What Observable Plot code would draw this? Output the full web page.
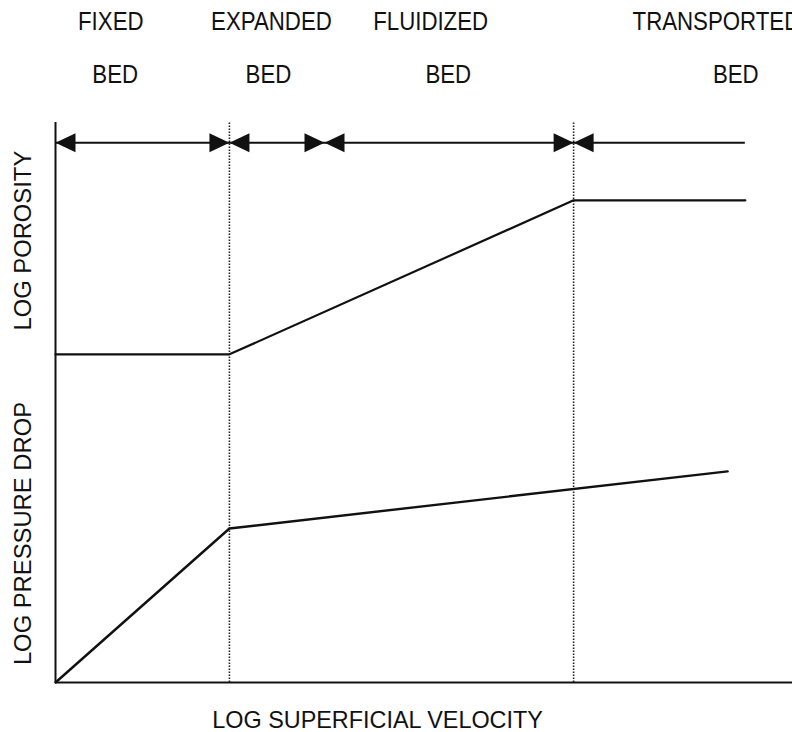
<!DOCTYPE html>
<html><head><meta charset="utf-8">
<script src="https://cdn.jsdelivr.net/npm/d3@7"></script>
<script src="https://cdn.jsdelivr.net/npm/@observablehq/plot@0.6"></script>
<style>body{margin:0;background:#fff}</style>
</head><body><div id="chart"></div>
<script>
// Regime labels (two rows) and their positions along log superficial velocity (0-100 units)
const regimeTop = ["FIXED", "EXPANDED", "FLUIDIZED"];
const regimeTopX = [7.5, 29.3, 50.9];
const regimeTopLast = "TRANSPORTED";
const regimeTopLastX = 78.3;
const regimeBottom = ["BED", "BED", "BED", "BED"];
const regimeBottomX = [8.1, 28.9, 53.3, 92.3];

// Regime boundaries (dotted verticals)
const boundaries = [23.6, 70.3];

// Log porosity curve
const porosityX = [0, 23.6, 70.3, 93.6];
const porosityY = [58.6, 58.6, 86.1, 86.1];

// Log pressure drop curve
const pressureX = [0, 23.6, 91.2];
const pressureY = [0, 27.5, 37.7];

// Regime arrow band
const arrowLevel = 96.4;
const arrowSpan = [0, 93.6];
const arrowRightTips = [23.6, 36.5, 70.3];
const arrowLeftTips = [0, 23.6, 36.5, 70.3];

// Axis titles
const yTitles = ["LOG POROSITY", "LOG PRESSURE DROP"];
const yTitleY = [78.9, 26.6];
const xTitle = "LOG SUPERFICIAL VELOCITY";

const porosity = porosityX.map((x, i) => ({x, y: porosityY[i]}));
const pressure = pressureX.map((x, i) => ({x, y: pressureY[i]}));
const topRow = regimeTop.map((t, i) => ({t, x: regimeTopX[i]}));
const bottomRow = regimeBottom.map((t, i) => ({t, x: regimeBottomX[i]}));

function head(dir) {
  return {
    draw(ctx, size) {
      const s = Math.sqrt(size / Math.PI);
      const L = 2 * s * dir, h = 0.95 * s;
      ctx.moveTo(0, 0);
      ctx.lineTo(-L, -h);
      ctx.lineTo(-L, h);
      ctx.closePath();
    }
  };
}

const regular = "'Liberation Sans', Arial, Helvetica, sans-serif";

const chart = Plot.plot({
  width: 792,
  height: 732,
  marginLeft: 55,
  marginRight: 0,
  marginTop: 122,
  marginBottom: 50,
  x: {domain: [0, 100], axis: null},
  y: {domain: [0, 100], axis: null},
  style: {background: "#fff"},
  marks: [
    Plot.ruleX(boundaries, {y1: 0, y2: 100, stroke: "#222", strokeWidth: 1.6, strokeDasharray: "1.6,1.4"}),
    Plot.ruleX([0], {y1: 0, y2: 100, stroke: "#111", strokeWidth: 2}),
    Plot.ruleY([0], {x1: 0, x2: 100, stroke: "#111", strokeWidth: 2.2}),
    Plot.line(porosity, {x: "x", y: "y", stroke: "#111", strokeWidth: 2.2}),
    Plot.line(pressure, {x: "x", y: "y", stroke: "#111", strokeWidth: 2.4}),
    Plot.ruleY([arrowLevel], {x1: arrowSpan[0], x2: arrowSpan[1], stroke: "#111", strokeWidth: 2}),
    Plot.dot(arrowRightTips, {x: d => d, y: arrowLevel, symbol: head(1), r: 10, fill: "#111", stroke: "none"}),
    Plot.dot(arrowLeftTips, {x: d => d, y: arrowLevel, symbol: head(-1), r: 10, fill: "#111", stroke: "none"}),
    Plot.text(topRow, {x: "x", y: 117.9, text: "t", fontSize: 25, fontFamily: regular, fill: "#111"}),
    Plot.text([regimeTopLast], {x: regimeTopLastX, y: 117.9, text: d => d, textAnchor: "start", fontSize: 25, fontFamily: regular, fill: "#111"}),
    Plot.text(bottomRow, {x: "x", y: 108.4, text: "t", fontSize: 25, fontFamily: regular, fill: "#111"}),
    Plot.text(yTitles, {x: -4.4, y: (d, i) => yTitleY[i], text: d => d, rotate: -90, fontSize: 23.8, fontFamily: regular, fill: "#111"}),
    Plot.text([xTitle], {x: 43.7, y: -6.8, text: d => d, fontSize: 23.4, fontFamily: regular, fill: "#111"})
  ]
});
// narrow the regime labels horizontally (condensed face of the original)
const regimeSet = new Set([...regimeTop, regimeTopLast, ...regimeBottom]);
d3.select(chart).selectAll("text").each(function() {
  if (!regimeSet.has(this.textContent)) return;
  const t = this.getAttribute("transform");
  if (t) {
    this.setAttribute("transform", t + " scale(0.89,1)");
  } else {
    const x = +this.getAttribute("x") || 0, y = +this.getAttribute("y") || 0;
    this.removeAttribute("x");
    this.removeAttribute("y");
    this.setAttribute("transform", `translate(${x},${y}) scale(0.89,1)`);
  }
});
document.getElementById("chart").append(chart);
</script>
</body></html>
